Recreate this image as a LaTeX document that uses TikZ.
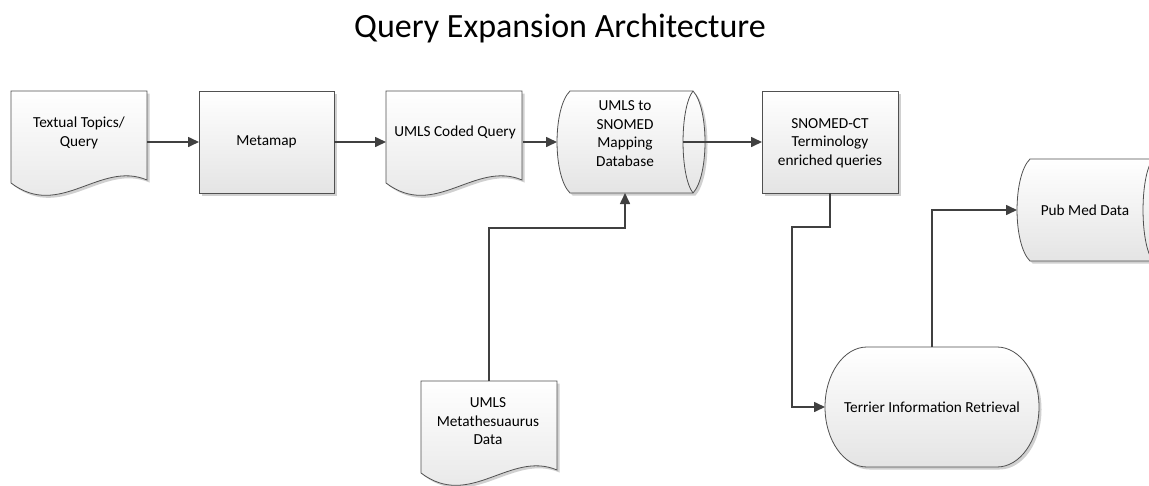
\documentclass[tikz,border=0pt]{standalone}
\usepackage{fontspec}
\setmainfont{Carlito}
\usetikzlibrary{arrows.meta}
\definecolor{linegray}{HTML}{404040}
\definecolor{edgegray}{HTML}{505050}
\definecolor{fillgray}{HTML}{E4E4E4}
\definecolor{shadowgray}{HTML}{D0D0D0}
\tikzset{
  frame/.style={inner sep=0pt, outer sep=0pt, draw=none},
  shapefill/.style={draw=edgegray, line width=0.8pt, top color=white, bottom color=fillgray},
  shadowfill/.style={fill=shadowgray, draw=none},
  conn/.style={draw=linegray, line width=1.6pt, -{Triangle[length=11pt,width=10pt]}},
  txt/.style={align=center, inner sep=0pt, font=\fontsize{15.3}{18.5}\selectfont},
}
\newcommand{\docshape}[1]{%
  \begin{scope}[shift={(#1.north west)}]
    \fill[shadowfill, shift={(2.5,2.5)}] (0,0) -- (136,0) -- (136,89) .. controls (89,69) and (49,129) .. (0,92) -- cycle;
    \path[shapefill] (0,0) -- (136,0) -- (136,89) .. controls (89,69) and (49,129) .. (0,92) -- cycle;
  \end{scope}}
\newcommand{\boxshape}[1]{%
  \fill[shadowfill] ([shift={(2.5,2.5)}]#1.north west) rectangle ([shift={(2.5,2.5)}]#1.south east);
  \path[shapefill] (#1.north west) rectangle (#1.south east);}
\newcommand{\cylshape}[1]{%
  \begin{scope}[shift={(#1.north west)}]
    \fill[shadowfill, shift={(2.5,2.5)}] (13,0) -- (136,0) .. controls (152,17) and (152,85) .. (136,102) -- (13,102) .. controls (-4.3,85) and (-4.3,17) .. (13,0) -- cycle;
    \path[shapefill] (13,0) -- (136,0) .. controls (152,17) and (152,85) .. (136,102) -- (13,102) .. controls (-4.3,85) and (-4.3,17) .. (13,0) -- cycle;
    \draw[draw=edgegray, line width=0.8pt] (136,0) .. controls (122.7,17) and (122.7,85) .. (136,102);
  \end{scope}}
\newcommand{\termshape}[1]{%
  \begin{scope}[shift={(#1.north west)}]
    \fill[shadowfill, shift={(2.5,2.5)}] (42,0) -- (172,0) arc[start angle=-90, end angle=90, x radius=42, y radius=60] -- (42,120) arc[start angle=90, end angle=270, x radius=42, y radius=60] -- cycle;
    \path[shapefill] (42,0) -- (172,0) arc[start angle=-90, end angle=90, x radius=42, y radius=60] -- (42,120) arc[start angle=90, end angle=270, x radius=42, y radius=60] -- cycle;
  \end{scope}}
\begin{document}
\begin{tikzpicture}[x=1pt, y=-1pt]
\useasboundingbox (0,0) rectangle (1149,485);
\clip (0,0) rectangle (1149,485);

% title
\node[anchor=base, inner sep=0pt, font=\fontsize{34}{40}\selectfont] (title) at (560,37) {Query Expansion Architecture};

% shape frames
\node[frame, minimum width=136pt, minimum height=104pt] (tt) at (79,143) {};
\node[frame, minimum width=135pt, minimum height=102pt] (mm) at (266.5,142) {};
\node[frame, minimum width=137pt, minimum height=104pt] (uc) at (454.5,143) {};
\node[frame, minimum width=148pt, minimum height=102pt] (db) at (631,142) {};
\node[frame, minimum width=136pt, minimum height=102pt] (sn) at (830,142) {};
\node[frame, minimum width=136pt, minimum height=102pt] (um) at (489,432) {};
\node[frame, minimum width=214pt, minimum height=120pt] (tr) at (932,407) {};
\node[frame, minimum width=148pt, minimum height=102pt] (pm) at (1091,210) {};

\docshape{tt}
\boxshape{mm}
\docshape{uc}
\cylshape{db}
\boxshape{sn}
\docshape{um}
\termshape{tr}
\cylshape{pm}

% texts
\node[txt] (tt-t) at (79,133) {Textual Topics/\\Query};
\node[txt] (mm-t) at (266.5,142) {Metamap};
\node[txt] (uc-t) at (455,132) {UMLS Coded Query};
\node[txt] (db-t) at (625,133.5) {UMLS to\\SNOMED\\Mapping\\Database};
\node[txt] (sn-t) at (830,143) {SNOMED-CT\\Terminology\\enriched queries};
\node[txt] (um-t) at (488,421.5) {UMLS\\Metathesuaurus\\Data};
\node[txt] (tr-t) at (932,407) {Terrier Information Retrieval};
\node[txt] (pm-t) at (1085,210) {Pub Med Data};

% connectors
\coordinate (dbin) at ([xshift=-22pt]db.east);
\coordinate (b1) at (792,227);
\coordinate (b2) at (625,228);
\draw[conn] (mm.west -| tt.east) -- (mm.west);
\draw[conn] (mm.east) -- (mm.east -| uc.west);
\draw[conn] (db.west -| uc.east) -- (db.west);
\draw[conn] (dbin) -- (dbin -| sn.west);
\draw[conn] (sn.south) |- (b1) |- (tr.west);
\draw[conn] (um.north) |- (b2) -- (b2 |- db.south);
\draw[conn] (tr.north) |- (pm.west);
\end{tikzpicture}
\end{document}
